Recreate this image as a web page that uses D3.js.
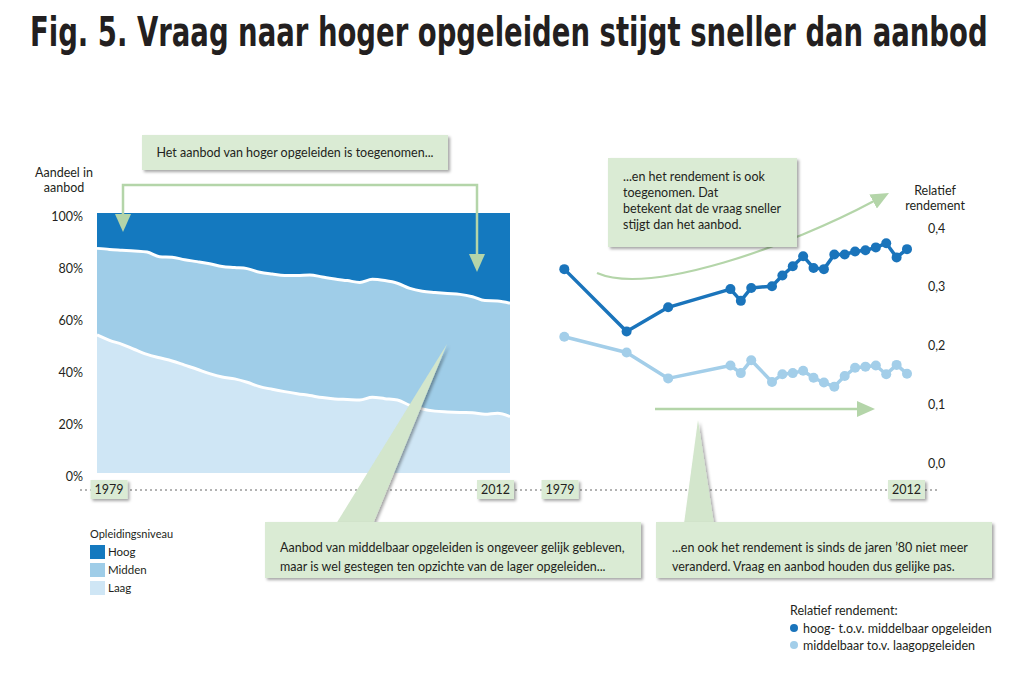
<!DOCTYPE html>
<html><head><meta charset="utf-8">
<script src="https://cdn.jsdelivr.net/npm/d3@7"></script>
<style>
body{margin:0;background:#fff;}
svg{display:block;font-family:Lato,"Open Sans",sans-serif;}
</style></head><body>
<svg id="c" width="1024" height="674"></svg>
<script>
// ---------- DATA ----------
const years = [1979,1980,1981,1982,1983,1984,1985,1986,1987,1988,1989,1990,1991,1992,1993,1994,1995,1996,1997,1998,1999,2000,2001,2002,2003,2004,2005,2006,2007,2008,2009,2010,2011,2012];
const laag   = [53.1,51.0,49.5,47.5,45.6,44.3,43.1,41.5,39.9,38.2,36.9,36.2,34.9,33.2,32.2,31.3,30.5,29.8,29.0,28.5,28.3,28.1,29.1,28.6,28.1,26.0,24.6,23.8,23.5,23.3,23.2,22.6,23.0,21.7];
const midden = [33.3,35.0,36.2,37.9,39.4,38.9,39.9,40.5,41.4,42.3,42.5,42.8,43.7,44.0,44.3,44.7,45.5,46.4,46.4,46.1,45.7,45.2,45.4,45.4,44.9,45.0,45.3,45.6,45.5,45.4,44.6,43.7,43.2,43.6];
const hoog   = [13.6,14.0,14.3,14.6,15.0,16.8,17.0,18.0,18.7,19.5,20.6,21.0,21.4,22.8,23.5,24.0,24.0,23.8,24.6,25.4,26.0,26.7,25.5,26.0,27.0,29.0,30.1,30.6,31.0,31.3,32.2,33.7,33.8,34.7];
const levels = ["Laag","Midden","Hoog"];
const levelLabels = ["Hoog","Midden","Laag"];
const shareTicks = [0,20,40,60,80,100];

const rYears = [1979,1985,1989,1995,1996,1997,1999,2000,2001,2002,2003,2004,2005,2006,2007,2008,2009,2010,2011,2012];
const rHoogMidden = [0.330,0.224,0.265,0.296,0.276,0.298,0.301,0.319,0.335,0.352,0.332,0.330,0.355,0.355,0.360,0.362,0.367,0.374,0.350,0.364];
const rMiddenLaag = [0.215,0.188,0.144,0.166,0.153,0.175,0.138,0.151,0.153,0.157,0.145,0.137,0.130,0.148,0.162,0.164,0.166,0.151,0.167,0.152];
const rTicks = [0,0.1,0.2,0.3,0.4];
const yearEnds = [1979,2012];
const rLegend = ["hoog- t.o.v. middelbaar opgeleiden","middelbaar to.v. laagopgeleiden"];

// ---------- STYLE ----------
const C = {hoog:"#1479bf", midden:"#9fcde8", laag:"#cfe6f5", dark:"#1a74bb", light:"#a3cee9",
           box:"#daebd4", arrow:"#b4d5a9", wedge:"#d3e6cc", text:"#231f20"};
const svg = d3.select("#c");
const defs = svg.append("defs");
defs.append("filter").attr("id","sh").attr("x","-10%").attr("y","-20%").attr("width","130%").attr("height","160%")
  .append("feDropShadow").attr("dx",2).attr("dy",2).attr("stdDeviation",1.6)
  .attr("flood-color","#000").attr("flood-opacity",0.35);
defs.append("marker").attr("id","ah").attr("viewBox","0 0 18 16").attr("markerUnits","userSpaceOnUse")
  .attr("markerWidth",18).attr("markerHeight",16).attr("refX",1).attr("refY",8)
  .attr("orient","auto-start-reverse")
  .append("path").attr("d","M0,0 L18,8 L0,16 Z").attr("fill",C.arrow);

// Title (scaled horizontally to the reference width)
const title = svg.append("text").attr("x",0).attr("y",0)
  .attr("font-family",'"Liberation Sans Narrow","DejaVu Sans Condensed","Open Sans",sans-serif')
  .attr("font-size",40).attr("font-weight",700).attr("fill",C.text)
  .text("Fig. 5. Vraag naar hoger opgeleiden stijgt sneller dan aanbod");
const tw = title.node().getComputedTextLength();
title.attr("transform",`translate(30,46) scale(${958/tw},1)`);

// ---------- LEFT: stacked area ----------
const xL = d3.scaleLinear().domain([1979,2012]).range([97,510]);
const yL = d3.scaleLinear().domain([0,100]).range([473,213]);
const rows = years.map((y,i)=>({year:y, Laag:laag[i], Midden:midden[i], Hoog:hoog[i]}));
const stack = d3.stack().keys(levels)(rows);
const colorOf = {Laag:C.laag, Midden:C.midden, Hoog:C.hoog};
const area = d3.area().x(d=>xL(d.data.year)).y0(d=>yL(d[0])).y1(d=>yL(d[1])).curve(d3.curveMonotoneX);
svg.append("g").selectAll("path").data(stack).join("path")
  .attr("d",area).attr("fill",d=>colorOf[d.key]);
const topLine = d3.line().x(d=>xL(d.data.year)).y(d=>yL(d[1])).curve(d3.curveMonotoneX);
svg.append("g").selectAll("path").data(stack.slice(0,2)).join("path")
  .attr("d",topLine).attr("fill","none").attr("stroke","#fff").attr("stroke-width",3);

const axL = svg.append("g").attr("transform","translate(83,3)")
  .call(d3.axisLeft(yL).tickValues(shareTicks).tickFormat(d=>d+"%").tickSize(0).tickPadding(0));
axL.select(".domain").remove();
axL.selectAll("text").attr("font-size",12.5).attr("fill",C.text).attr("font-family","Lato,sans-serif");

svg.append("text").attr("x",64).attr("y",177).attr("text-anchor","middle").attr("font-size",12.5).attr("fill",C.text).text("Aandeel in");
svg.append("text").attr("x",64).attr("y",192).attr("text-anchor","middle").attr("font-size",12.5).attr("fill",C.text).text("aanbod");

// ---------- RIGHT: lines ----------
const xR = d3.scaleLinear().domain([1979,2012]).range([564.3,907]);
const yR = d3.scaleLinear().domain([0,0.4]).range([463,228]);
const axR = svg.append("g").attr("transform","translate(928,0)")
  .call(d3.axisRight(yR).tickValues(rTicks).tickFormat(d=>d3.format(".1f")(d).replace(".",",")).tickSize(0).tickPadding(0));
axR.select(".domain").remove();
axR.selectAll("text").attr("font-size",12.5).attr("fill",C.text).attr("font-family","Lato,sans-serif");
svg.append("text").attr("x",935).attr("y",195).attr("text-anchor","middle").attr("font-size",12.5).attr("fill",C.text).text("Relatief");
svg.append("text").attr("x",935).attr("y",210).attr("text-anchor","middle").attr("font-size",12.5).attr("fill",C.text).text("rendement");

// Annotation arrows (behind series)
svg.append("path").attr("d","M597,273 C650,296 790,246 874,201").attr("fill","none")
  .attr("stroke",C.arrow).attr("stroke-width",2.2).attr("marker-end","url(#ah)");
svg.append("path").attr("d","M655,409 H858").attr("fill","none")
  .attr("stroke",C.arrow).attr("stroke-width",2.5).attr("marker-end","url(#ah)");

const series = [{vals:rMiddenLaag, color:C.light},{vals:rHoogMidden, color:C.dark}];
const line = d3.line().x((d,i)=>xR(rYears[i])).y(d=>yR(d));
series.forEach(s=>{
  const g = svg.append("g");
  g.append("path").attr("d",line(s.vals)).attr("fill","none").attr("stroke",s.color).attr("stroke-width",3.5).attr("stroke-linejoin","round");
  g.selectAll("circle").data(s.vals).join("circle")
    .attr("cx",(d,i)=>xR(rYears[i])).attr("cy",d=>yR(d)).attr("r",5).attr("fill",s.color);
});

// ---------- axis row ----------
svg.append("line").attr("x1",80).attr("x2",940).attr("y1",490).attr("y2",490)
  .attr("stroke","#666").attr("stroke-width",1).attr("stroke-dasharray","2,3");
const yearBoxes = [
  {x:xL(yearEnds[0])+12, t:yearEnds[0]},{x:xL(yearEnds[1])-14.5, t:yearEnds[1]},
  {x:xR(yearEnds[0])-4.3, t:yearEnds[0]},{x:xR(yearEnds[1])-0.5, t:yearEnds[1]}];
const yb = svg.append("g").selectAll("g").data(yearBoxes).join("g").attr("transform",d=>`translate(${d.x},489.5)`);
yb.append("rect").attr("x",-18.5).attr("y",-9.5).attr("width",37).attr("height",19).attr("fill",C.box).attr("filter","url(#sh)");
yb.append("text").attr("y",4.5).attr("text-anchor","middle").attr("font-size",12.5).attr("fill",C.text).text(d=>d.t);

// ---------- callouts ----------
svg.append("path").attr("d","M123,215 V185 H477 V255").attr("fill","none")
  .attr("stroke",C.arrow).attr("stroke-width",2.5)
  .attr("marker-start","url(#ah)").attr("marker-end","url(#ah)");

svg.append("polygon").attr("points","447,344 336,524 373,524").attr("fill",C.wedge).attr("filter","url(#sh)");
svg.append("polygon").attr("points","698,420 684,524 714,524").attr("fill",C.wedge).attr("filter","url(#sh)");

function box(x,y,w,h,lines,tx,ty,lh,anchor){
  const g = svg.append("g");
  g.append("rect").attr("x",x).attr("y",y).attr("width",w).attr("height",h).attr("fill",C.box).attr("filter","url(#sh)");
  lines.forEach((l,i)=>g.append("text").attr("x",tx).attr("y",ty+i*lh).attr("text-anchor",anchor||"start")
    .attr("font-size",12.5).attr("fill",C.text).text(l));
}
box(142,135,306,35,["Het aanbod van hoger opgeleiden is toegenomen..."],295,157,0,"middle");
box(608,158,189,89,["...en het rendement is ook","toegenomen. Dat","betekent dat de vraag sneller","stijgt dan het aanbod."],623,181,16);
box(265,522,376,56,["Aanbod van middelbaar opgeleiden is ongeveer gelijk gebleven,","maar is wel gestegen ten opzichte van de lager opgeleiden..."],280,552,19);
box(656,522,336,56,["...en ook het rendement is sinds de jaren \u201980 niet meer","veranderd. Vraag en aanbod houden dus gelijke pas."],672,552,19);

// ---------- legends ----------
svg.append("text").attr("x",90).attr("y",538).attr("font-size",11).attr("fill",C.text).text("Opleidingsniveau");
const lg = svg.append("g").selectAll("g").data(levelLabels).join("g").attr("transform",(d,i)=>`translate(90,${545+i*18})`);
lg.append("rect").attr("width",15).attr("height",14).attr("fill",d=>colorOf[d]);
lg.append("text").attr("x",18).attr("y",11).attr("font-size",11.5).attr("fill",C.text).text(d=>d);

svg.append("text").attr("x",790).attr("y",615).attr("font-size",12.5).attr("fill",C.text).text("Relatief rendement:");
const rl = svg.append("g").selectAll("g").data(rLegend).join("g").attr("transform",(d,i)=>`translate(794,${628+i*17})`);
rl.append("circle").attr("r",4).attr("fill",(d,i)=>i===0?C.dark:C.light);
rl.append("text").attr("x",9).attr("y",4.5).attr("font-size",12.5).attr("fill",C.text).text(d=>d);
</script>
</body></html>
